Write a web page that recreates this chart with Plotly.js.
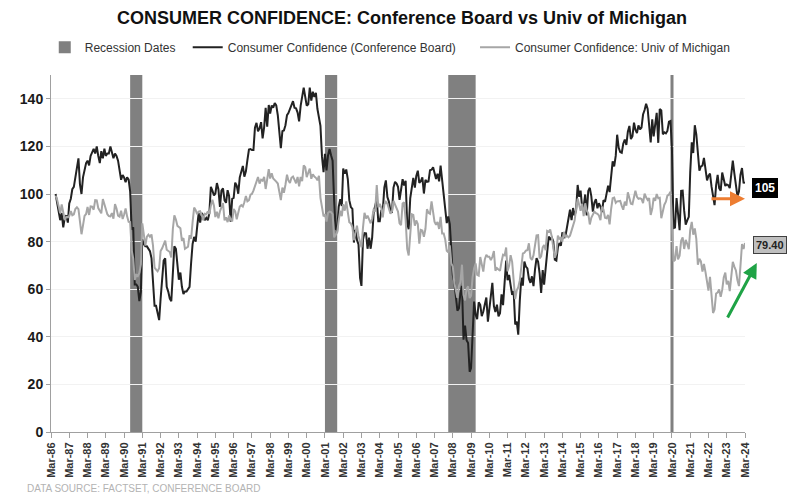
<!DOCTYPE html>
<html>
<head>
<meta charset="utf-8">
<script src="https://cdn.plot.ly/plotly-3.0.1.min.js"></script>
<style>
  html, body { margin: 0; padding: 0; background: #ffffff; }
  #chart { width: 804px; height: 494px; }
</style>
</head>
<body>
<div id="chart"></div>
<script>
// monthly series, first value = Jun 1986
let startYear = 1986
let startMonth = 6

let confBoard = [
    100, 96, 93, 89, 92, 86, 90,
    91, 88, 96, 98, 102, 103, 107, 112, 115, 104, 100, 107,
    110, 113, 114, 112, 116, 118, 119, 117, 120, 116, 113, 118,
    115, 119, 116, 117, 117, 120, 118, 115, 117, 116, 114, 110,
    106, 108, 107, 105, 107, 106, 101, 85, 86, 62, 62, 61,
    55, 59, 81, 79, 78, 78, 77, 76, 73, 62, 53, 53,
    50, 47, 56, 66, 72, 73, 61, 59, 56, 55, 66, 78,
    77, 68, 64, 67, 61, 58, 59, 59, 60, 61, 71, 79,
    82, 80, 86, 92, 88, 92, 91, 89, 90, 89, 92, 103,
    101.4, 99.4, 100.2, 104.6, 102.0, 94.6, 101.4, 102.4, 97.3, 96.3, 101.6, 99.2,
    88.4, 98.0, 98.4, 104.8, 103.5, 100.1, 107.0, 109.4, 111.8, 107.3, 109.5, 114.2,
    118.7, 118.9, 118.5, 118.5, 127.9, 129.9, 126.3, 127.6, 130.2, 123.4, 128.1, 136.2,
    128.3, 137.4, 133.8, 137.2, 136.3, 138.2, 137.2, 133.1, 126.4, 119.3, 126.4, 126.7,
    128.9, 133.1, 134.0, 135.5, 137.7, 139.0, 136.2, 136.0, 134.2, 130.5, 137.0, 141.7,
    144.7, 140.8, 137.1, 137.7, 144.7, 139.2, 143.0, 140.8, 142.5, 135.8, 132.6, 128.6,
    115.7, 109.2, 116.9, 109.9, 116.1, 118.9, 116.3, 114.0, 97.0, 85.3, 84.9, 94.6,
    97.8, 95.0, 110.7, 108.5, 110.3, 106.3, 97.4, 94.5, 93.7, 79.6, 84.9, 80.7,
    78.8, 64.8, 61.4, 81.0, 83.6, 83.5, 77.0, 81.7, 77.0, 81.7, 92.5, 94.8,
    97.7, 88.5, 88.5, 93.0, 93.1, 102.8, 105.7, 98.7, 96.7, 92.9, 92.6, 102.7,
    105.1, 104.4, 103.0, 97.5, 103.1, 106.2, 103.6, 105.5, 87.5, 85.2, 98.3, 103.8,
    106.8, 102.7, 107.5, 109.8, 104.7, 105.4, 107.0, 100.2, 105.9, 105.1, 105.3, 110.0,
    110.2, 111.2, 108.2, 106.3, 108.5, 105.3, 111.9, 105.6, 99.5, 95.2, 87.8, 90.6,
    87.3, 76.4, 65.9, 62.8, 58.1, 51.0, 51.9, 58.5, 61.4, 38.8, 44.7, 38.6,
    37.4, 25.3, 26.9, 40.8, 54.8, 49.3, 47.4, 54.5, 53.4, 48.7, 50.6, 53.6,
    56.5, 46.4, 52.3, 57.7, 62.7, 52.9, 50.4, 53.5, 48.6, 49.9, 57.8, 53.3,
    64.8, 72.0, 63.8, 66.0, 61.7, 57.6, 59.2, 45.2, 46.4, 40.9, 55.2, 64.8,
    61.5, 71.6, 69.5, 68.7, 64.4, 62.7, 65.4, 61.3, 68.4, 73.1, 71.5, 66.7,
    58.4, 68.0, 61.9, 69.0, 76.2, 82.1, 81.0, 81.8, 80.2, 72.4, 72.0, 77.5,
    79.4, 78.3, 83.9, 81.7, 82.2, 86.4, 90.3, 93.4, 89.0, 94.1, 91.0, 93.1,
    103.8, 98.8, 101.4, 94.3, 94.6, 99.8, 91.0, 101.3, 102.6, 99.1, 92.6, 96.3,
    97.8, 94.0, 96.1, 94.7, 92.4, 97.4, 96.7, 101.1, 103.5, 100.8, 109.4, 113.7,
    111.6, 116.1, 124.9, 119.4, 117.6, 117.3, 121.1, 122.9, 120.6, 126.2, 128.6, 123.1,
    124.3, 130.0, 127.0, 125.6, 128.8, 127.1, 127.9, 133.4, 135.3, 137.9, 135.7, 126.6,
    121.7, 131.4, 124.2, 129.2, 134.1, 121.5, 135.7, 135.1, 125.1, 125.9, 125.5, 126.5,
    130.4, 130.7, 118.8, 85.7, 85.9, 98.3, 91.7, 84.8, 101.3, 101.4, 92.9, 87.1,
    88.9, 90.4, 109.0, 121.7, 117.2, 128.9, 125.1, 115.2, 109.8, 111.6, 111.9, 115.2,
    111.1, 105.7, 107.6, 108.6, 103.2, 98.4, 95.3, 103.6, 108.0, 102.5, 101.4, 109.0,
    106.0, 103.4, 104.0, 103.7, 102.5, 110.1, 114.0, 108.7, 104.3, 99.1, 101.0, 108.0,
    110.9, 104.8, 104.7
]

let uMich = [
    99.3, 97.7, 94.9, 91.9, 95.6, 91.4, 89.1,
    90.4, 90.2, 90.8, 92.8, 91.1, 91.5, 93.7, 94.4, 93.6, 89.3, 83.1, 86.8,
    90.8, 91.6, 94.6, 91.2, 94.8, 94.7, 93.4, 97.4, 97.3, 94.1, 93.0, 91.9,
    97.9, 95.4, 94.3, 91.5, 90.7, 90.6, 92.0, 89.6, 95.8, 93.9, 90.9, 90.5,
    93.0, 89.5, 91.3, 93.9, 90.6, 88.3, 88.2, 76.4, 72.8, 63.9, 66.0, 65.5,
    66.8, 70.4, 87.7, 81.8, 78.3, 82.1, 82.9, 82.0, 83.0, 78.3, 69.1, 68.2,
    67.5, 68.8, 76.0, 77.2, 79.2, 80.4, 76.6, 76.1, 75.6, 73.3, 85.3, 91.0,
    89.3, 86.6, 85.9, 85.6, 80.3, 81.5, 77.0, 77.3, 77.9, 82.7, 81.2, 88.2,
    94.3, 93.2, 91.5, 92.6, 92.8, 91.2, 89.0, 91.7, 91.5, 92.7, 91.6, 95.1,
    97.6, 95.1, 90.3, 92.5, 89.8, 92.7, 94.4, 96.2, 88.9, 90.2, 88.2, 91.0,
    89.3, 88.5, 93.7, 92.7, 89.4, 92.4, 94.7, 95.3, 94.7, 96.5, 99.2, 96.9,
    97.4, 99.7, 100.0, 101.4, 103.2, 104.5, 107.1, 104.4, 106.0, 105.6, 107.2, 102.1,
    106.6, 110.4, 106.5, 108.7, 106.5, 105.6, 105.2, 104.4, 100.9, 97.4, 102.7, 100.5,
    103.9, 108.1, 105.7, 104.6, 106.8, 107.3, 106.0, 104.5, 107.2, 103.2, 107.2, 105.4,
    112.0, 111.3, 107.1, 109.2, 110.7, 106.4, 108.3, 107.3, 106.8, 105.8, 107.6, 98.4,
    94.7, 90.6, 91.5, 88.4, 92.0, 92.6, 92.4, 91.5, 81.8, 82.7, 83.9, 88.8,
    93.0, 90.7, 95.7, 93.0, 96.9, 92.4, 88.1, 87.6, 86.1, 80.6, 84.2, 86.7,
    82.4, 79.9, 77.6, 86.0, 92.1, 89.7, 90.9, 89.3, 87.7, 89.6, 93.7, 92.6,
    103.8, 94.4, 95.8, 94.2, 90.2, 95.6, 96.7, 95.9, 94.2, 91.7, 92.8, 97.1,
    95.5, 94.1, 92.6, 87.7, 86.9, 96.0, 96.5, 89.1, 76.9, 74.2, 81.6, 91.5,
    91.2, 86.7, 88.9, 87.4, 79.1, 84.9, 84.7, 82.0, 85.4, 93.6, 92.1, 91.7,
    96.9, 91.3, 88.4, 87.1, 88.3, 85.3, 90.4, 83.4, 83.4, 80.9, 76.1, 75.5,
    78.4, 70.8, 69.5, 62.6, 59.8, 56.4, 61.2, 63.0, 70.3, 57.6, 55.3, 60.1,
    61.2, 56.3, 57.3, 65.1, 68.7, 70.8, 66.0, 65.7, 73.5, 70.6, 67.4, 72.5,
    74.4, 73.6, 73.6, 72.2, 73.6, 76.0, 67.8, 68.9, 68.2, 67.7, 71.6, 74.5,
    74.2, 77.5, 67.5, 69.8, 74.3, 71.5, 63.7, 55.8, 59.5, 60.8, 63.7, 69.9,
    75.0, 75.3, 76.2, 76.4, 79.3, 73.2, 72.3, 74.3, 78.3, 82.6, 82.7, 72.9,
    73.8, 77.6, 78.6, 76.4, 84.5, 84.1, 85.1, 82.1, 77.5, 73.2, 75.1, 82.5,
    81.2, 81.6, 80.0, 84.1, 81.9, 82.5, 81.8, 82.5, 84.6, 86.9, 88.8, 93.6,
    98.1, 95.4, 93.0, 95.9, 90.7, 96.1, 93.1, 91.9, 87.2, 90.0, 91.3, 92.6,
    92.0, 91.7, 91.0, 89.0, 94.7, 93.5, 90.0, 89.8, 91.2, 87.2, 93.8, 98.2,
    98.5, 96.3, 96.9, 97.0, 97.1, 95.0, 93.4, 96.8, 95.1, 100.7, 98.5, 95.9,
    95.7, 99.7, 101.4, 98.8, 98.0, 98.2, 97.9, 96.2, 100.1, 98.6, 97.5, 98.3,
    91.2, 93.8, 98.4, 97.2, 100.0, 98.2, 98.4, 89.8, 93.2, 95.5, 96.8, 99.3,
    99.8, 101.0, 89.1, 71.8, 72.3, 78.1, 72.5, 74.1, 80.4, 81.8, 76.9, 80.7,
    79.0, 76.8, 84.9, 88.3, 82.9, 85.5, 81.2, 70.3, 72.8, 71.7, 67.4, 70.6,
    67.2, 62.8, 59.4, 65.2, 58.4, 50.0, 51.5, 58.2, 58.6, 59.9, 56.8, 59.7,
    64.9, 67.0, 62.0, 63.5, 59.2, 64.4, 71.5, 69.5, 67.9, 63.8, 61.3, 69.7,
    79.0, 76.9, 79.4
]

let recessionStarts = ["1990-07-01", "2001-03-01", "2007-12-01", "2020-02-01"]
let recessionEnds = ["1991-03-01", "2001-11-01", "2009-06-01", "2020-04-01"]

let tickYears = [1986, 1987, 1988, 1989, 1990, 1991, 1992, 1993, 1994, 1995,
    1996, 1997, 1998, 1999, 2000, 2001, 2002, 2003, 2004, 2005,
    2006, 2007, 2008, 2009, 2010, 2011, 2012, 2013, 2014, 2015,
    2016, 2017, 2018, 2019, 2020, 2021, 2022, 2023, 2024]

let lastConfBoard = "105"
let lastUMich = "79.40"

function monthDate(i) {
    let m = startMonth - 1 + i
    let y = startYear + Math.floor(m / 12)
    let mm = (m % 12) + 1
    return y + "-" + (mm < 10 ? "0" + mm : mm) + "-01"
}

let dates = confBoard.map((v, i) => monthDate(i))
let tickVals = tickYears.map(y => y + "-03-01")
let tickText = tickYears.map(y => "Mar-" + String(y).slice(2))

let font = "'Liberation Sans', Arial, sans-serif"

let cbTrace = {
    x: dates,
    y: confBoard,
    type: "scatter",
    mode: "lines",
    name: "Consumer Confidence (Conference Board)",
    line: { color: "#222222", width: 2 },
    legend: "legend2",
    hoverinfo: "skip"
}

let umTrace = {
    x: dates,
    y: uMich,
    type: "scatter",
    mode: "lines",
    name: "Consumer Confidence: Univ of Michigan",
    line: { color: "#a6a6a6", width: 2 },
    legend: "legend3",
    hoverinfo: "skip"
}

let shapes = recessionStarts.map((s, i) => ({
    type: "rect",
    xref: "x",
    yref: "paper",
    x0: s,
    x1: recessionEnds[i],
    y0: 0,
    y1: 1,
    fillcolor: "#808080",
    line: { width: 0 },
    layer: "below",
    name: "Recession Dates",
    showlegend: i === 0,
    legend: "legend",
    legendgroup: "rec"
}))

let legendBase = {
    orientation: "h",
    yref: "paper",
    y: 1.078,
    yanchor: "middle",
    xanchor: "left",
    bgcolor: "rgba(0,0,0,0)",
    font: { family: font, size: 12, color: "#333333" }
}

let layout = {
    width: 804,
    height: 494,
    margin: { l: 51, r: 59, t: 75, b: 62 },
    paper_bgcolor: "#ffffff",
    plot_bgcolor: "#ffffff",
    title: {
        text: "<b>CONSUMER CONFIDENCE: Conference Board vs Univ of Michigan</b>",
        font: { family: font, size: 18, color: "#111111" },
        x: 0.5,
        xanchor: "center",
        y: 0.965,
        yanchor: "middle"
    },
    legend: Object.assign({}, legendBase, { x: -0.009 }),
    legend2: Object.assign({}, legendBase, { x: 0.197 }),
    legend3: Object.assign({}, legendBase, { x: 0.611 }),
    xaxis: {
        type: "date",
        range: ["1986-03-01", "2024-03-01"],
        tickmode: "array",
        tickvals: tickVals,
        ticktext: tickText,
        tickangle: -90,
        tickfont: { family: font, size: 11, color: "#333333", weight: "bold" },
        ticks: "outside",
        ticklen: 5,
        tickcolor: "#a0a0a0",
        showline: true,
        linecolor: "#a0a0a0",
        linewidth: 1,
        showgrid: false,
        zeroline: false
    },
    yaxis: {
        range: [0, 150],
        tickvals: [0, 20, 40, 60, 80, 100, 120, 140],
        tickfont: { family: font, size: 14, color: "#1a1a1a", weight: "bold" },
        ticks: "outside",
        ticklen: 4,
        tickcolor: "#a0a0a0",
        showline: true,
        linecolor: "#a0a0a0",
        linewidth: 1,
        showgrid: true,
        gridcolor: "#f2f2f2",
        zeroline: false
    },
    shapes: shapes,
    annotations: [
        {
            xref: "x", yref: "y",
            x: dates[dates.length - 1], y: confBoard[confBoard.length - 1],
            text: "<b>" + lastConfBoard + "</b>",
            showarrow: false,
            xanchor: "left", xshift: 7, yshift: -5,
            bgcolor: "#000000", bordercolor: "#000000", borderwidth: 1, borderpad: 2,
            font: { family: font, size: 12, color: "#ffffff" }
        },
        {
            xref: "x", yref: "y",
            x: dates[dates.length - 1], y: uMich[uMich.length - 1],
            text: "<b>" + lastUMich + "</b>",
            showarrow: false,
            xanchor: "left", xshift: 8, yshift: -2,
            bgcolor: "#bfbfbf", bordercolor: "#404040", borderwidth: 1, borderpad: 2,
            font: { family: font, size: 11, color: "#222222" }
        },
        {
            xref: "paper", yref: "y",
            x: 1.0, y: 98,
            ax: -35, ay: 0,
            showarrow: true, arrowhead: 2, arrowsize: 1, arrowwidth: 3,
            arrowcolor: "#ed7d31", text: ""
        },
        {
            xref: "paper", yref: "y",
            x: 1.017, y: 71,
            ax: -30, ay: 56,
            showarrow: true, arrowhead: 2, arrowsize: 1, arrowwidth: 3,
            arrowcolor: "#1fa346", text: ""
        },
        {
            xref: "paper", yref: "paper",
            x: -0.037, y: -0.157,
            xanchor: "left", yanchor: "middle",
            showarrow: false,
            text: "DATA SOURCE: FACTSET, CONFERENCE BOARD",
            font: { family: font, size: 10, color: "#b3b3b3" }
        }
    ]
}

Plotly.newPlot("chart", [cbTrace, umTrace], layout, { displayModeBar: false, staticPlot: true })
</script>
</body>
</html>
